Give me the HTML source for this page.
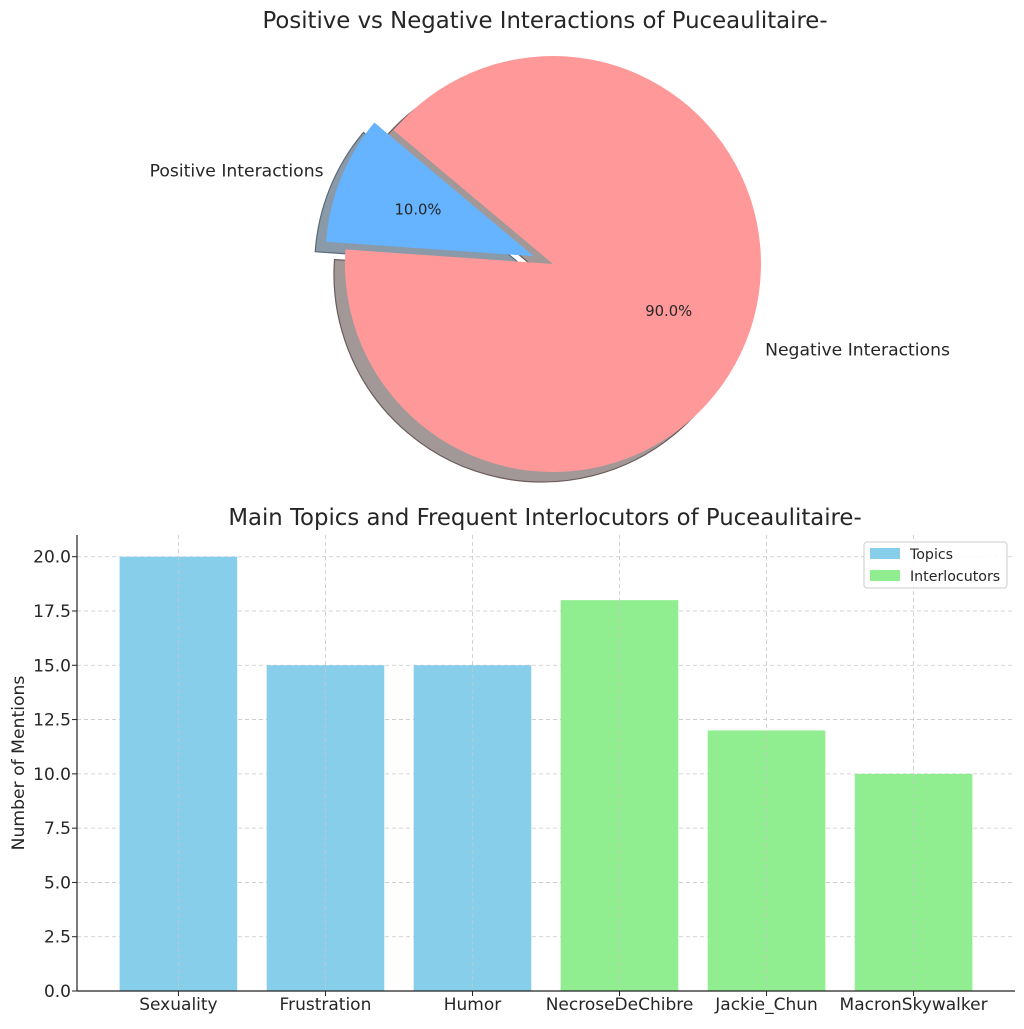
<!DOCTYPE html>
<html><head><meta charset="utf-8"><style>
body{margin:0;background:#fff;}
svg text{font-family:"DejaVu Sans","Liberation Sans",sans-serif;fill:#262626;}
</style></head><body>
<svg id="c" width="1024" height="1024" viewBox="0 0 1024 1024" xmlns="http://www.w3.org/2000/svg">
<text x="545" y="28" font-size="22.8" text-anchor="middle">Positive vs Negative Interactions of Puceaulitaire-</text>
<g id="pie"></g>
<text x="545" y="525" font-size="22.8" text-anchor="middle">Main Topics and Frequent Interlocutors of Puceaulitaire-</text>
<g id="bars"></g>
</svg>
<script>
const pieLabels=["Positive Interactions","Negative Interactions"];
const pieValues=[10,90];
const pieColors=["#66b3ff","#ff9999"];
const pieExplode=[0.1,0];
const categories=["Sexuality","Frustration","Humor","NecroseDeChibre","Jackie_Chun","MacronSkywalker"];
const values=[20,15,15,18,12,10];
const groups=["Topics","Topics","Topics","Interlocutors","Interlocutors","Interlocutors"];
const yTicks=[0,2.5,5,7.5,10,12.5,15,17.5,20];
const yTickLabels=["0.0","2.5","5.0","7.5","10.0","12.5","15.0","17.5","20.0"];
const NS="http://www.w3.org/2000/svg";
function mk(t,a,p){const e=document.createElementNS(NS,t);for(const k in a)e.setAttribute(k,a[k]);p.appendChild(e);return e;}
const pie=document.getElementById('pie');
const cx=553,cy=264,R=208;
const tot=pieValues.reduce((a,b)=>a+b,0);
function wedge(x,y,a0,a1){const r0=a0*Math.PI/180,r1=a1*Math.PI/180;
 const x0=x+R*Math.cos(r0),y0=y-R*Math.sin(r0),x1=x+R*Math.cos(r1),y1=y-R*Math.sin(r1);
 const big=(a1-a0)>180?1:0;return `M${x},${y}L${x0},${y0}A${R},${R} 0 ${big} 0 ${x1},${y1}Z`;}
let ang=140;const geo=[];
pieValues.forEach((v,i)=>{const span=v/tot*360,mid=(ang+span/2)*Math.PI/180;
 const ox=cx+pieExplode[i]*R*Math.cos(mid),oy=cy-pieExplode[i]*R*Math.sin(mid);
 geo.push({ox,oy,a0:ang,a1:ang+span,mid,span});ang+=span;});
geo.forEach((g,i)=>{const s=mk('path',{d:wedge(g.ox-11,g.oy+10,g.a0,g.a1),fill:i==0?'#8a9aa8':'#a39898',stroke:i==0?'#5a6a7a':'#6b5a5a','stroke-width':1.2},pie);
 
 });
geo.forEach((g,i)=>{const w=mk('path',{d:wedge(g.ox,g.oy,g.a0,g.a1),fill:pieColors[i]},pie);
 
 
 const p=mk('text',{x:g.ox+0.6*R*Math.cos(g.mid),y:g.oy-0.6*R*Math.sin(g.mid)+5,'font-size':14.8,'text-anchor':'middle'},pie);
 p.textContent=(pieValues[i]/tot*100).toFixed(1)+'%';
 
 
 const lx=g.ox+1.1*R*Math.cos(g.mid)+(Math.cos(g.mid)<0?2:0),ly=g.oy-1.1*R*Math.sin(g.mid)+6;
 const l=mk('text',{x:lx,y:ly,'font-size':17.2,'text-anchor':Math.cos(g.mid)<0?'end':'start'},pie);
 l.textContent=pieLabels[i];
 
 });
const bg=document.getElementById('bars');
const L=77,Rr=1015,T=535,B=991,xmin=-0.69,xmax=5.69,ymax=21;
const X=v=>L+(v-xmin)/(xmax-xmin)*(Rr-L);
const Y=v=>B-v/ymax*(B-T);
const bw=0.8*(X(1)-X(0));
yTicks.forEach((t,i)=>{const y=Y(t);
 const gl=mk('line',{x1:L,x2:Rr,y1:y,y2:y,stroke:'#c8c8c8','stroke-dasharray':'4,3','stroke-width':0.8},bg);
 
 
 mk('line',{x1:L-5,x2:L,y1:y,y2:y,stroke:'#222'},bg);
 const tx=mk('text',{x:L-6,y:y+6,'font-size':17,'text-anchor':'end'},bg);tx.textContent=yTickLabels[i];
 
 });
categories.forEach((c,i)=>{const x=X(i);
 const r=mk('rect',{x:x-bw/2,y:Y(values[i]),width:bw,height:B-Y(values[i]),fill:groups[i]=='Topics'?'#87ceeb':'#90ee90'},bg);
 
 });
categories.forEach((c,i)=>{const x=X(i);
 const gl=mk('line',{x1:x,x2:x,y1:T,y2:B,stroke:'#c8c8c8','stroke-dasharray':'4,3','stroke-width':0.8},bg);
 
 
 mk('line',{x1:x,x2:x,y1:B,y2:B+5,stroke:'#222'},bg);
 const tx=mk('text',{x:x,y:B+19,'font-size':17,'text-anchor':'middle'},bg);tx.textContent=c;
 
 });
mk('line',{x1:L,x2:L,y1:T,y2:B,stroke:'#222','stroke-width':1.2},bg);
mk('line',{x1:L,x2:Rr,y1:B,y2:B,stroke:'#222','stroke-width':1.2},bg);
const yl=mk('text',{x:24,y:763,'font-size':17.2,'text-anchor':'middle',transform:'rotate(-90 24 763)'},bg);
yl.textContent='Number of Mentions';


const lg=mk('g',{},bg);


mk('rect',{x:864,y:542,width:143,height:46,rx:3,fill:'#fff','fill-opacity':0.85,stroke:'#ccc'},lg);
[["Topics","#87ceeb"],["Interlocutors","#90ee90"]].forEach((e,i)=>{
 const gg=mk('g',{},lg);
 
 
 mk('rect',{x:870,y:548+i*22,width:30,height:11,fill:e[1]},gg);
 const t=mk('text',{x:910,y:559+i*22,'font-size':14.2},gg);t.textContent=e[0];});
</script>
</body></html>
